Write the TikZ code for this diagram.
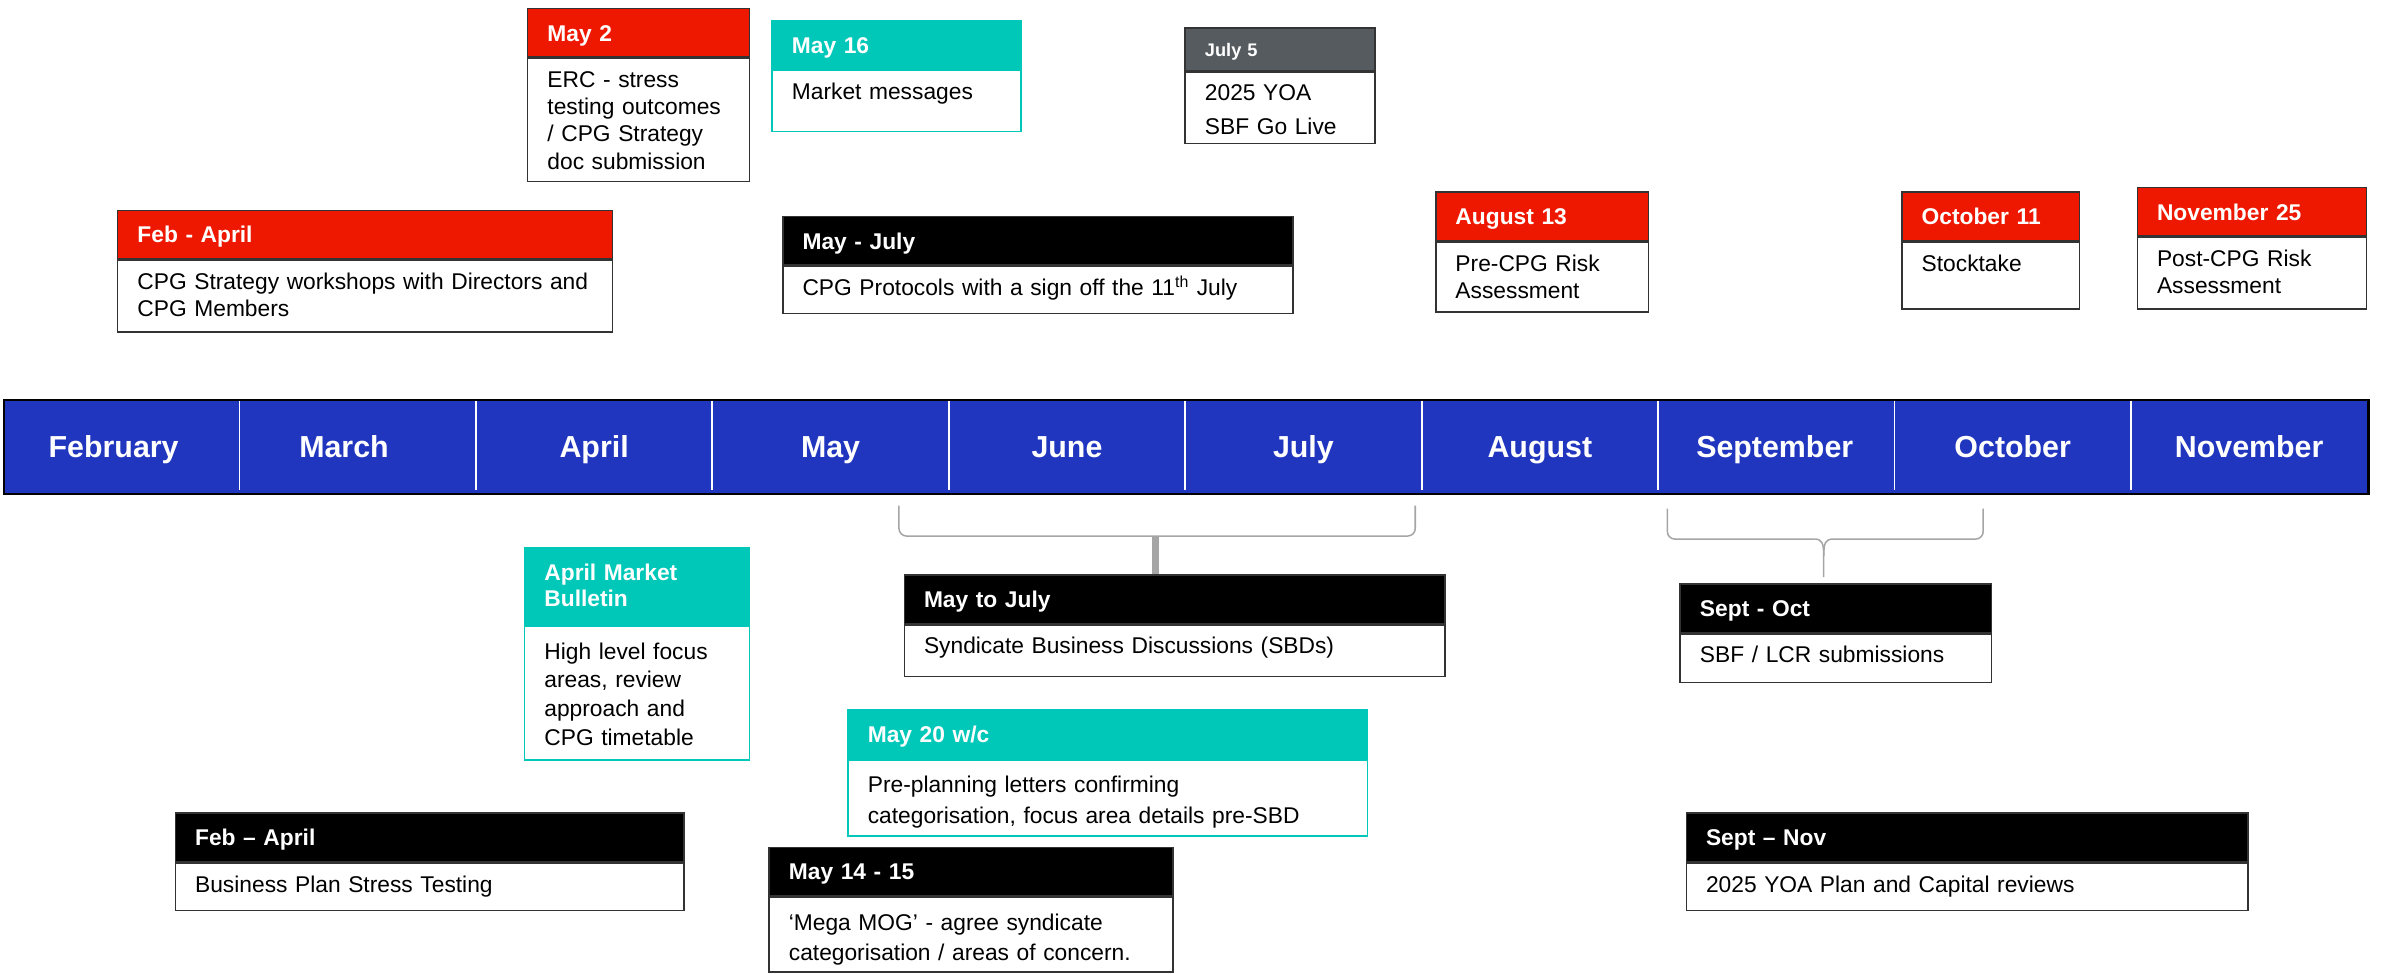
\documentclass[tikz,border=0pt]{standalone}
\usepackage{fontspec}
\setmainfont{Liberation Sans}
\usetikzlibrary{positioning}
\definecolor{evred}{RGB}{238,24,0}
\definecolor{evteal}{RGB}{0,200,185}
\definecolor{evblue}{RGB}{32,54,190}
\definecolor{evgrey}{RGB}{85,91,94}
\definecolor{bracegrey}{RGB}{165,165,165}

\tikzset{
  head/.style 2 args={draw=black!80, line width=1pt, fill=#1, text=white,
    font=\bfseries\fontsize{15}{17}\selectfont, anchor=north west, align=left,
    inner xsep=13pt, inner ysep=0pt, minimum height=32pt,
    text height=11pt, text depth=0pt, text width=#2},
  body/.style 2 args={draw=black!80, line width=1pt, fill=white, align=left,
    font=\fontsize{15}{18}\selectfont, inner xsep=13pt, inner ysep=0pt,
    text height=19pt, text width=#1, text depth=#2},
  month/.style={text=white, font=\bfseries\fontsize{20}{24}\selectfont,
    text height=14pt, text depth=4pt},
  brace/.style={draw=bracegrey, line width=1pt, rounded corners=5pt},
}

\begin{document}
\begin{tikzpicture}[x=1pt, y=-1pt]
\useasboundingbox (0,0) rectangle (1568,640.8);

% month bar
\node[draw=black, line width=1.5pt, fill=evblue, anchor=north west, inner sep=0pt,
  minimum width=1557pt, minimum height=62pt] (bar) at (2,262.5) {};
\foreach \i in {1,...,9}
  \draw[white, line width=1.2pt] ({2+155.7*\i},264) -- ({2+155.7*\i},323);
\foreach \m/\dx [count=\i from 0] in {February/-5,March/-9,April/0,May/0,June/0,July/0,August/0,September/-1,October/0,November/0}
  \node[month] (m\i) at ({2+155.7*\i+77.85+\dx},296.5) {\m};

% above the bar
\node[head={evred}{300pt}] (febapr) at (77,138) {Feb - April};
\node[body={300pt}{28pt}, below=0pt of febapr] (febaprtxt) {CPG Strategy workshops with Directors and\\CPG Members};

\node[head={evred}{120pt}] (may2) at (347,5) {May 2};
\node[body={120pt}{62pt}, below=0pt of may2] (may2txt) {ERC - stress\\testing outcomes\\/ CPG Strategy\\doc submission};

\node[head={evteal}{138pt}, draw=evteal] (may16) at (508,13) {May 16};
\node[body={138pt}{21pt}, draw=evteal, below=0pt of may16] (may16txt) {Market messages};

\node[head={evgrey}{99pt}, minimum height=28pt, text height=9pt,
  font=\bfseries\fontsize{12}{14}\selectfont] (jul5) at (780,18) {July 5};
\node[body={99pt}{28pt}, font=\fontsize{15}{22}\selectfont, below=0pt of jul5] (jul5txt) {2025 YOA\\SBF Go Live};

\node[head={black}{310pt}] (mayjul) at (515,142) {May - July};
\node[body={310pt}{12pt}, below=0pt of mayjul] (mayjultxt) {CPG Protocols with a sign off the 11\textsuperscript{th} July};

\node[head={evred}{114pt}] (aug13) at (945,126) {August 13};
\node[body={114pt}{27pt}, below=0pt of aug13] (aug13txt) {Pre-CPG Risk\\Assessment};

\node[head={evred}{91pt}] (oct11) at (1252,126) {October 11};
\node[body={91pt}{25pt}, below=0pt of oct11] (oct11txt) {Stocktake};

\node[head={evred}{125pt}] (nov25) at (1407,123) {November 25};
\node[body={125pt}{28pt}, below=0pt of nov25] (nov25txt) {Post-CPG Risk\\Assessment};

% below the bar
\node[head={evteal}{122pt}, draw=evteal, minimum height=51pt, text depth=18pt] (aprmb) at (345,360) {April Market\\Bulletin};
\node[body={122pt}{66.5pt}, draw=evteal, text height=21.5pt, font=\fontsize{15}{19}\selectfont,
  below=0pt of aprmb] (aprmbtxt) {High level focus\\areas, review\\approach and\\CPG timetable};

\node[head={black}{330pt}] (sbd) at (595,378) {May to July};
\node[body={330pt}{15pt}, below=0pt of sbd] (sbdtxt) {Syndicate Business Discussions (SBDs)};

\node[head={black}{179pt}] (septoct) at (1106,384) {Sept - Oct};
\node[body={179pt}{13pt}, below=0pt of septoct] (septocttxt) {SBF / LCR submissions};

\node[head={evteal}{316pt}, draw=evteal] (may20) at (558,467) {May 20 w/c};
\node[body={316pt}{28.5pt}, draw=evteal, text height=21.5pt, font=\fontsize{15}{20}\selectfont,
  below=0pt of may20] (may20txt) {Pre-planning letters confirming\\categorisation, focus area details pre-SBD};

\node[head={black}{309pt}] (bpst) at (115,535) {Feb -- April};
\node[body={309pt}{12pt}, below=0pt of bpst] (bpsttxt) {Business Plan Stress Testing};

\node[head={black}{240pt}] (mog) at (506,557.5) {May 14 - 15};
\node[body={240pt}{27.5pt}, text height=21.5pt, font=\fontsize{15}{20}\selectfont,
  below=0pt of mog] (mogtxt) {`Mega MOG' - agree syndicate\\categorisation / areas of concern.};

\node[head={black}{344pt}] (septnov) at (1110,535) {Sept -- Nov};
\node[body={344pt}{12pt}, below=0pt of septnov] (septnovtxt) {2025 YOA Plan and Capital reviews};

% braces
\coordinate (b1l) at (592,333);
\coordinate (b1r) at (932,333);
\coordinate (b1m) at (761,353);
\draw[brace] (b1l) -- (b1l |- b1m) -- (b1r |- b1m) -- (b1r);
\draw[draw=bracegrey, line width=5pt] (b1m) -- (b1m |- sbd.north);

\coordinate (b2l) at (1098,335);
\coordinate (b2r) at (1306,335);
\coordinate (b2m) at (1201,355);
\coordinate (b2e) at (1201,380);
\draw[brace] (b2l) -- (b2l |- b2m) -- (1195,355);
\draw[brace] (b2r) -- (b2r |- b2m) -- (1207,355);
\draw[draw=bracegrey, line width=1pt] (1195,355) .. controls (1200,355) and (1201,358) .. (1201,366) -- (b2e);
\draw[draw=bracegrey, line width=1pt] (1207,355) .. controls (1202,355) and (1201,358) .. (1201,366);
\end{tikzpicture}
\end{document}
